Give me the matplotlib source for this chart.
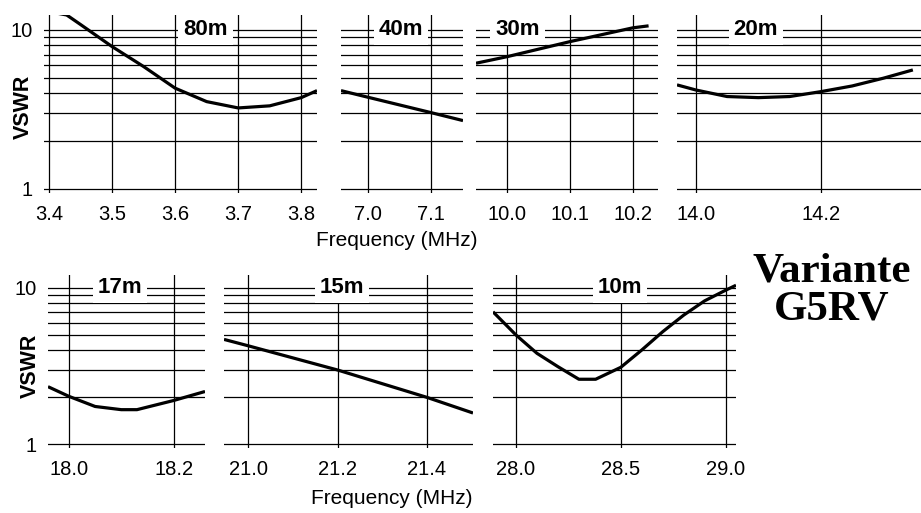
import matplotlib
matplotlib.use("Agg")
import matplotlib.pyplot as plt
from matplotlib.ticker import FixedLocator, NullFormatter

plt.rcParams['font.family'] = ['Liberation Sans', 'DejaVu Sans']

# band data (frequency in MHz, VSWR)
f80 = [3.392, 3.428, 3.45, 3.5, 3.55, 3.6, 3.65, 3.7, 3.75, 3.8, 3.825]
s80 = [13.2, 12.4, 10.8, 7.85, 5.88, 4.3, 3.54, 3.23, 3.33, 3.75, 4.15]

f40 = [6.957, 7.0, 7.1, 7.151]
s40 = [4.15, 3.77, 3.02, 2.69]

f30 = [9.95, 10.0, 10.1, 10.2, 10.225]
s30 = [6.17, 6.79, 8.44, 10.3, 10.6]

f20 = [13.97, 14.0, 14.05, 14.1, 14.15, 14.2, 14.25, 14.3, 14.347]
s20 = [4.51, 4.19, 3.81, 3.75, 3.81, 4.09, 4.44, 4.97, 5.6]

f17 = [17.96, 18.0, 18.05, 18.1, 18.13, 18.2, 18.26]
s17 = [2.33, 2.02, 1.74, 1.66, 1.66, 1.90, 2.17]

f15 = [20.946, 21.0, 21.2, 21.4, 21.503]
s15 = [4.68, 4.26, 2.98, 1.99, 1.58]

f10 = [27.89, 28.0, 28.1, 28.2, 28.3, 28.38, 28.5, 28.6, 28.7, 28.8, 28.9, 29.0, 29.05]
s10 = [7.03, 4.99, 3.81, 3.13, 2.6, 2.6, 3.1, 4.0, 5.24, 6.69, 8.26, 9.66, 10.4]

bands = ["80m", "40m", "30m", "20m", "17m", "15m", "10m"]
freqs = [f80, f40, f30, f20, f17, f15, f10]
vswrs = [s80, s40, s30, s20, s17, s15, s10]
xticks = [[3.4, 3.5, 3.6, 3.7, 3.8], [7.0, 7.1], [10.0, 10.1, 10.2], [14.0, 14.2],
          [18.0, 18.2], [21.0, 21.2, 21.4], [28.0, 28.5, 29.0]]
xlims = [(3.392, 3.825), (6.957, 7.151), (9.95, 10.24), (13.97, 14.36),
         (17.96, 18.26), (20.946, 21.503), (27.89, 29.05)]
label_x = [3.648, 7.052, 10.016, 14.096, 18.098, 21.21, 28.497]

W, H = 921, 513
fig = plt.figure(figsize=(W / 100, H / 100), dpi=100)

# pixel boxes: left, right, top, bottom
boxes = [(44, 317, 15, 192.5), (341, 463, 15, 192.5), (476, 658, 15, 192.5), (677, 921, 15, 192.5),
         (48, 205, 275, 447.5), (224, 473, 275, 447.5), (493, 736, 275, 447.5)]
ytops = [12.4, 12.4, 12.4, 12.4, 12.1, 12.1, 12.1]

for i in range(7):
    l, r, t, b = boxes[i]
    ax = fig.add_axes([l / W, 1 - b / H, (r - l) / W, (b - t) / H])
    ax.plot(freqs[i], vswrs[i], color='black', lw=2.3, solid_capstyle='butt', zorder=3)
    ax.set_yscale('log')
    ax.set_ylim(0.95, ytops[i])
    ax.set_xlim(*xlims[i])
    ax.yaxis.set_major_locator(FixedLocator([1, 10]))
    ax.yaxis.set_minor_locator(FixedLocator([2, 3, 4, 5, 6, 7, 8, 9]))
    ax.yaxis.set_minor_formatter(NullFormatter())
    ax.set_yticklabels(['1', '10'])
    ax.set_xticks(xticks[i])
    ax.set_xticklabels([f"{v:.1f}" for v in xticks[i]])
    ax.grid(True, which='both', color='black', lw=0.9)
    ax.set_axisbelow(True)
    for s in ax.spines.values():
        s.set_visible(False)
    ax.tick_params(which='both', length=0)
    ax.tick_params(axis='x', pad=9, labelsize=14.5)
    ax.tick_params(axis='y', pad=8, labelsize=14.5)
    if i not in (0, 4):
        ax.tick_params(axis='y', labelleft=False)
    ax.text(label_x[i], 10, bands[i], ha='center', va='center', fontsize=16,
            fontweight='bold', zorder=4,
            bbox=dict(facecolor='white', edgecolor='none', pad=3.5))

fig.text(23 / W, 1 - 107 / H, "VSWR", rotation=90, ha='center', va='center',
         fontsize=15.5, fontweight='bold')
fig.text(30 / W, 1 - 366 / H, "VSWR", rotation=90, ha='center', va='center',
         fontsize=15.5, fontweight='bold')
fig.text(397 / W, 1 - 240 / H, "Frequency (MHz)", ha='center', va='center', fontsize=15)
fig.text(392 / W, 1 - 498 / H, "Frequency (MHz)", ha='center', va='center', fontsize=15)
fig.text(832 / W, 1 - 290 / H, "Variante\nG5RV", ha='center', va='center',
         fontsize=31, fontweight='bold', family='Liberation Serif', linespacing=1.0)

fig.savefig("out.png", dpi=100, facecolor='white')
